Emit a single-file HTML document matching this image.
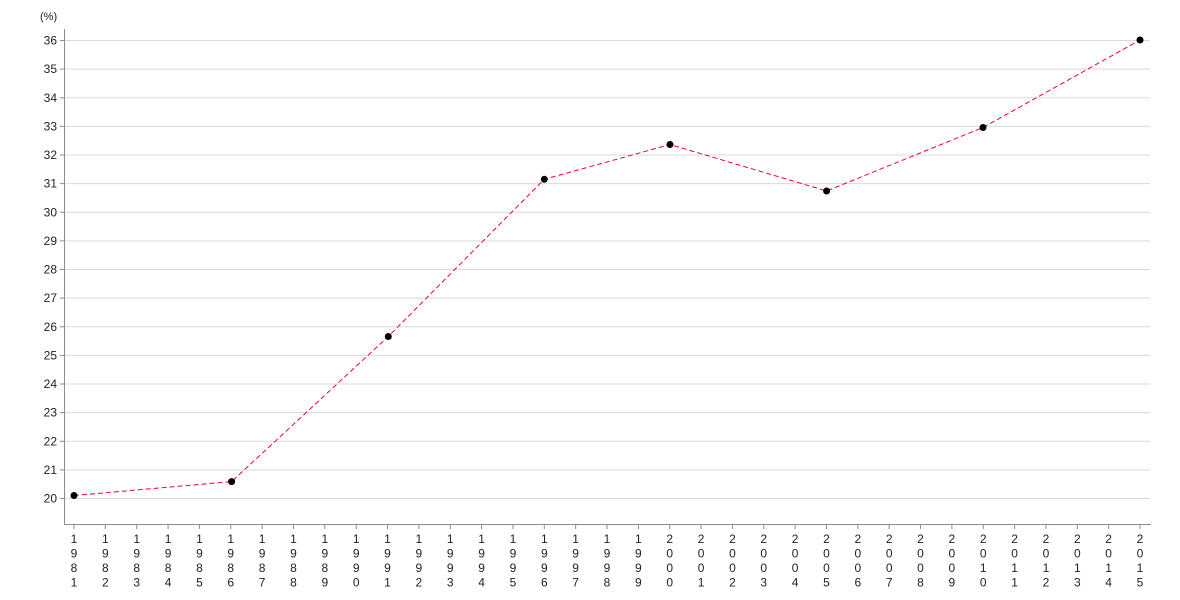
<!DOCTYPE html>
<html>
<head>
<meta charset="utf-8">
<style>
html,body{margin:0;padding:0;background:#fff;}
svg{display:block;}
text{font-family:"Liberation Sans","DejaVu Sans",sans-serif;font-size:12px;fill:#222;}
</style>
</head>
<body>
<svg width="1180" height="600" viewBox="0 0 1180 600" xmlns="http://www.w3.org/2000/svg">
<g id="grid" stroke="#d9d9d9" stroke-width="1">
<line x1="64" x2="1150" y1="498.5" y2="498.5"/>
<line x1="64" x2="1150" y1="469.9" y2="469.9"/>
<line x1="64" x2="1150" y1="441.3" y2="441.3"/>
<line x1="64" x2="1150" y1="412.6" y2="412.6"/>
<line x1="64" x2="1150" y1="384.0" y2="384.0"/>
<line x1="64" x2="1150" y1="355.4" y2="355.4"/>
<line x1="64" x2="1150" y1="326.8" y2="326.8"/>
<line x1="64" x2="1150" y1="298.1" y2="298.1"/>
<line x1="64" x2="1150" y1="269.5" y2="269.5"/>
<line x1="64" x2="1150" y1="240.9" y2="240.9"/>
<line x1="64" x2="1150" y1="212.3" y2="212.3"/>
<line x1="64" x2="1150" y1="183.6" y2="183.6"/>
<line x1="64" x2="1150" y1="155.0" y2="155.0"/>
<line x1="64" x2="1150" y1="126.4" y2="126.4"/>
<line x1="64" x2="1150" y1="97.8" y2="97.8"/>
<line x1="64" x2="1150" y1="69.1" y2="69.1"/>
<line x1="64" x2="1150" y1="40.5" y2="40.5"/>
</g>
<g stroke="#8c8c8c" stroke-width="1">
<line x1="64.5" x2="64.5" y1="29" y2="525"/>
<line x1="64" x2="1151" y1="524.5" y2="524.5"/>
</g>
<g stroke="#8c8c8c" stroke-width="1">
<line x1="60" x2="64" y1="498.5" y2="498.5"/><line x1="60" x2="64" y1="469.9" y2="469.9"/><line x1="60" x2="64" y1="441.3" y2="441.3"/><line x1="60" x2="64" y1="412.6" y2="412.6"/><line x1="60" x2="64" y1="384.0" y2="384.0"/><line x1="60" x2="64" y1="355.4" y2="355.4"/><line x1="60" x2="64" y1="326.8" y2="326.8"/><line x1="60" x2="64" y1="298.1" y2="298.1"/><line x1="60" x2="64" y1="269.5" y2="269.5"/><line x1="60" x2="64" y1="240.9" y2="240.9"/><line x1="60" x2="64" y1="212.3" y2="212.3"/><line x1="60" x2="64" y1="183.6" y2="183.6"/><line x1="60" x2="64" y1="155.0" y2="155.0"/><line x1="60" x2="64" y1="126.4" y2="126.4"/><line x1="60" x2="64" y1="97.8" y2="97.8"/><line x1="60" x2="64" y1="69.1" y2="69.1"/><line x1="60" x2="64" y1="40.5" y2="40.5"/>
</g>
<g text-anchor="end">
<text x="57" y="502.5">20</text><text x="57" y="473.9">21</text><text x="57" y="445.3">22</text><text x="57" y="416.6">23</text><text x="57" y="388">24</text><text x="57" y="359.4">25</text><text x="57" y="330.8">26</text><text x="57" y="302.1">27</text><text x="57" y="273.5">28</text><text x="57" y="244.9">29</text><text x="57" y="216.3">30</text><text x="57" y="187.6">31</text><text x="57" y="159">32</text><text x="57" y="130.4">33</text><text x="57" y="101.8">34</text><text x="57" y="73.1">35</text><text x="57" y="44.5">36</text>
</g>
<text x="40" y="20" style="font-size:11px">(%)</text>
<g id="xticks" stroke="#8c8c8c" stroke-width="1"></g>
<g id="xlabels" text-anchor="middle"></g>
<polyline fill="none" stroke="#f0003c" stroke-width="1" stroke-dasharray="5,3"
 points="74,495.5 231.6,481.6 388.3,336.5 544.3,179.3 670,144.5 826.6,191 983,127.5 1140,40"/>
<g fill="#000">
<circle cx="74" cy="495.5" r="3.5"/>
<circle cx="231.6" cy="481.6" r="3.5"/>
<circle cx="388.3" cy="336.5" r="3.5"/>
<circle cx="544.3" cy="179.3" r="3.5"/>
<circle cx="670" cy="144.5" r="3.5"/>
<circle cx="826.6" cy="191" r="3.5"/>
<circle cx="983" cy="127.5" r="3.5"/>
<circle cx="1140" cy="40" r="3.5"/>
</g>
</svg>
<script>
(function(){
var ns="http://www.w3.org/2000/svg";
var t=document.getElementById("xticks"), l=document.getElementById("xlabels");
var ys=[543,557.5,572,586.5];
for(var i=0;i<=34;i++){
  var x=74+i*(1140-74)/34;
  var ln=document.createElementNS(ns,"line");
  ln.setAttribute("x1",x);ln.setAttribute("x2",x);ln.setAttribute("y1",524);ln.setAttribute("y2",529);
  t.appendChild(ln);
  var s=String(1981+i);
  for(var j=0;j<4;j++){
    var tx=document.createElementNS(ns,"text");
    tx.setAttribute("x",x);tx.setAttribute("y",ys[j]);
    tx.textContent=s.charAt(j);
    l.appendChild(tx);
  }
}
})();
</script>
</body>
</html>
